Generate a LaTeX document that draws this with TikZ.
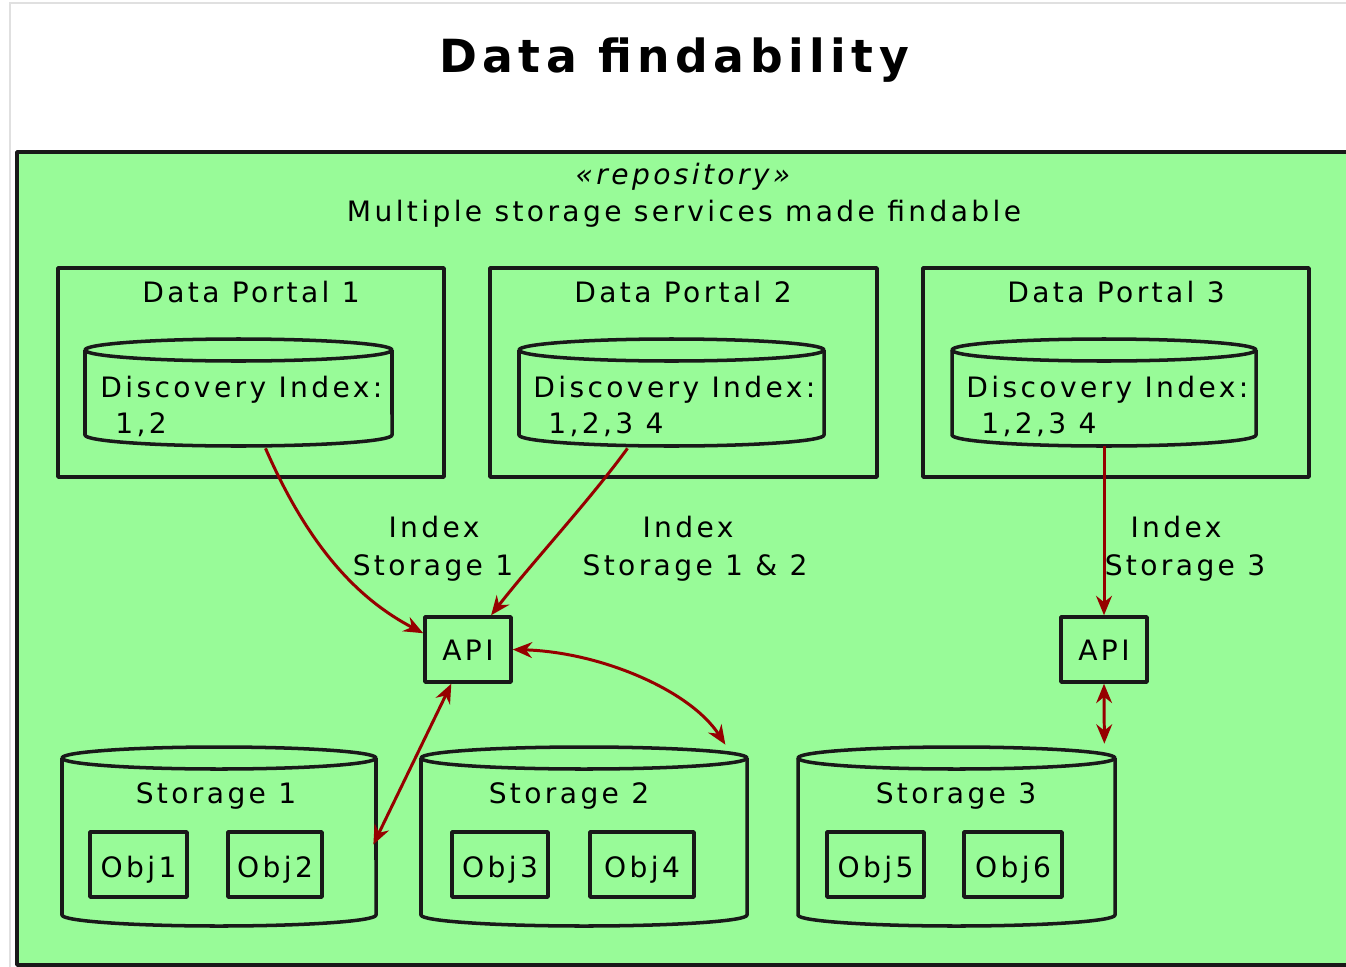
\documentclass[tikz,border=0pt]{standalone}
\usepackage{fontspec}
\setmainfont{DejaVu Sans}[LetterSpace=12]
\usetikzlibrary{fit,calc,arrows.meta}

\definecolor{pg}{RGB}{152,251,152}
\definecolor{ar}{RGB}{150,0,0}

\tikzset{
  ln/.style={draw=black!90, line width=2pt, line join=round},
  box/.style={ln, fill=pg, inner sep=0pt},
  txt/.style={inner sep=0pt, font=\fontsize{16}{20.5}\selectfont},
  tip/.style={Stealth[length=11pt,width=9pt]},
  conn/.style={draw=ar, line width=1.7pt, -{Stealth[length=11pt,width=9pt]}},
  bidir/.style={draw=ar, line width=1.7pt, {Stealth[length=11pt,width=9pt]}-{Stealth[length=11pt,width=9pt]}}
}

% #1 name, #2 x left, #3 x right, #4 y top centre, #5 y bottom centre, #6 y radius (all px)
\newcommand\mycyl[6]{%
  \pgfmathsetmacro\cxc{(#2+#3)/2}%
  \pgfmathsetmacro\crx{(#3-#2)/2*0.02}%
  \pgfmathsetmacro\cry{#6*0.02}%
  \fill[pg] (#2,#4) -- (#2,#5) arc[start angle=180,end angle=360,x radius=\crx cm,y radius=\cry cm] -- (#3,#4) -- cycle;
  \draw[ln] (#2,#4) -- (#2,#5) arc[start angle=180,end angle=360,x radius=\crx cm,y radius=\cry cm] -- (#3,#4);
  \draw[ln,fill=pg] (\cxc,#4) ellipse[x radius=\crx cm,y radius=\cry cm];
  \node[fit={(#2,#4-#6) (#3,#5+#6)}, inner sep=0pt] (#1) {};
}

\begin{document}
\begin{tikzpicture}[x=0.02cm, y=-0.02cm]
\useasboundingbox (0,0) rectangle (1346,967);
\fill[white] (0,0) rectangle (1346,967);
\draw[black!12, line width=1.2pt] (10,967) -- (10,3) -- (1346,3);

% title
\node[inner sep=0pt, anchor=base, font=\fontsize{26}{30}\selectfont\bfseries] (title) at (674,72) {Data findability};

% repository
\node[box, fit={(17,152) (1365,965)}] (repo) {};
\node[txt, anchor=base, font=\fontsize{16}{20.5}\selectfont\itshape] (stereo) at (683,184) {«repository»};
\node[txt, anchor=base] (repolbl) at (684,221) {Multiple storage services made findable};

% data portals
\node[box, fit={(58,268) (444,477)}] (dp1) {};
\node[box, fit={(490,268) (877,477)}] (dp2) {};
\node[box, fit={(923,268) (1309,477)}] (dp3) {};
\node[txt, anchor=base] (dp1t) at (251,302) {Data Portal 1};
\node[txt, anchor=base] (dp2t) at (683,302) {Data Portal 2};
\node[txt, anchor=base] (dp3t) at (1116,302) {Data Portal 3};

\mycyl{dp1cyl}{85}{392}{350}{435}{11}
\mycyl{dp2cyl}{519}{824}{350}{435}{11}
\mycyl{dp3cyl}{952}{1256}{350}{435}{11}
\node[txt, anchor=base west] (di1) at (100,397) {Discovery Index:};
\node[txt, anchor=base west] (di2) at (533,397) {Discovery Index:};
\node[txt, anchor=base west] (di3) at (966,397) {Discovery Index:};
\node[txt, anchor=base west] (dv1) at (115,433) {1,2};
\node[txt, anchor=base west] (dv2) at (548,433) {1,2,3 4};
\node[txt, anchor=base west] (dv3) at (981,433) {1,2,3 4};

% labels
\node[txt, anchor=base] (l1a) at (434,537) {Index};
\node[txt, anchor=base] (l1b) at (433,575) {Storage 1};
\node[txt, anchor=base] (l2a) at (688,537) {Index};
\node[txt, anchor=base] (l2b) at (695,575) {Storage 1 \& 2};
\node[txt, anchor=base] (l3a) at (1176,537) {Index};
\node[txt, anchor=base] (l3b) at (1185,575) {Storage 3};

% APIs
\node[box, fit={(425,617) (511,682)}] (api1) {};
\node[box, fit={(1061,617) (1147,682)}] (api2) {};
\node[txt, anchor=base] (api1t) at (468,660) {API};
\node[txt, anchor=base] (api2t) at (1104,660) {API};

% storages
\mycyl{s1cyl}{62}{376}{758}{915}{11}
\mycyl{s2cyl}{421}{747}{758}{915}{11}
\mycyl{s3cyl}{798}{1115}{758}{915}{11}
\node[txt, anchor=base] (s1t) at (216,803) {Storage 1};
\node[txt, anchor=base] (s2t) at (569,803) {Storage 2};
\node[txt, anchor=base] (s3t) at (956,803) {Storage 3};

\node[box, fit={(90,832) (187,897)}] (o1) {};
\node[box, fit={(228,832) (322,897)}] (o2) {};
\node[box, fit={(452,832) (548,897)}] (o3) {};
\node[box, fit={(590,832) (694,897)}] (o4) {};
\node[box, fit={(827,832) (924,897)}] (o5) {};
\node[box, fit={(964,832) (1062,897)}] (o6) {};
\node[txt, anchor=base] (o1t) at (138.5,877) {Obj1};
\node[txt, anchor=base] (o2t) at (275,877) {Obj2};
\node[txt, anchor=base] (o3t) at (500,877) {Obj3};
\node[txt, anchor=base] (o4t) at (642,877) {Obj4};
\node[txt, anchor=base] (o5t) at (875.5,877) {Obj5};
\node[txt, anchor=base] (o6t) at (1013,877) {Obj6};

% connectors
\draw[conn] ($(dp1cyl.south)+(27,2)$) .. controls (310,550) and (360,600) .. (api1.160);
\draw[conn] ($(dp2cyl.south)+(-44,2)$) .. controls (590,500) and (530,565) .. (api1.56);
\draw[conn] (dp3cyl.south) -- (api2.north);
\draw[bidir] (api1.east) .. controls (600,652) and (690,690) .. ($(s2cyl.north east)+(-22,-2)$);
\draw[bidir] (api1.244) -- ($(s1cyl.east)+(-3,8)$);
\draw[bidir] (api2.south) -- ($(s3cyl.north east)+(-11,-3)$);
\end{tikzpicture}
\end{document}
